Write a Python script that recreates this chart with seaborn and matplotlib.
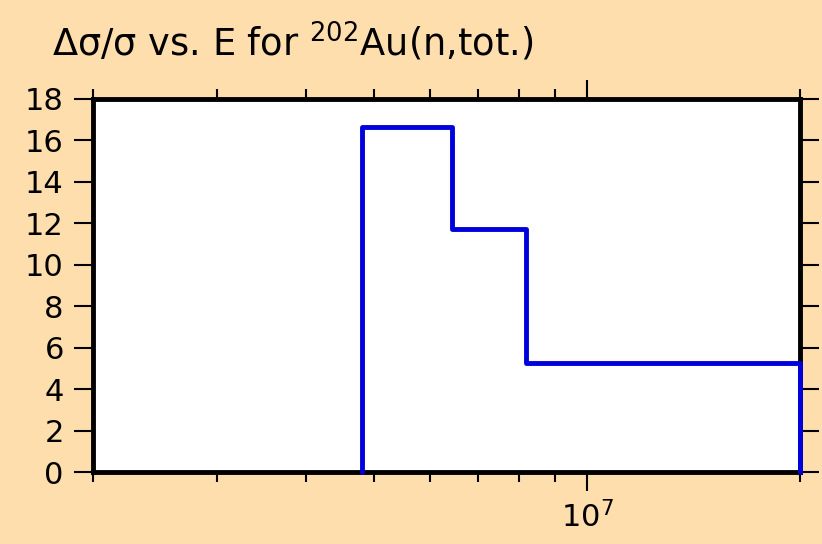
import numpy as np
import pandas as pd
import matplotlib
matplotlib.use('Agg')
import matplotlib.pyplot as plt
import matplotlib.ticker as mticker
import seaborn as sns

# ── 資料 ─────────────────────────────────────────────────────
EDGES  = [4.81e6, 6.44e6, 8.19e6, 2.0e7]   # 能量分組邊界 (eV)
VALUES = [16.65, 11.74, 5.27]              # Δσ/σ (%)
X_MIN, X_MAX = 2.0e6, 2.0e7
Y_TICKS = list(range(0, 20, 2))

BG    = '#FFDEAD'
BLUE  = '#0000DD'

# ── 樣式 ─────────────────────────────────────────────────────
sns.set_style('ticks')
plt.rcParams['font.family'] = ['DejaVu Sans']
plt.rcParams['mathtext.fontset'] = 'dejavusans'
plt.rcParams['mathtext.default'] = 'regular'

# 階梯線：左右兩端落到 0
xs = [EDGES[0]] + EDGES
ys = [0] + VALUES + [0]
df = pd.DataFrame({'E': xs, 'rel': ys})

fig = plt.figure(figsize=(8.22, 5.44), dpi=100, facecolor=BG)
ax = fig.add_axes([93/822, 1 - 472/544, (800-93)/822, (472-99)/544])
ax.set_facecolor('white')

sns.lineplot(data=df, x='E', y='rel', ax=ax, drawstyle='steps-post',
             estimator=None, sort=False, color=BLUE, linewidth=3.5,
             clip_on=False, zorder=5)

ax.set_xscale('log')
ax.set_xlim(X_MIN, X_MAX)
ax.set_ylim(0, 18)
ax.set_yticks(Y_TICKS)
ax.xaxis.set_major_locator(mticker.LogLocator(base=10, numticks=10))
ax.xaxis.set_minor_locator(mticker.LogLocator(base=10, subs=np.arange(2, 10), numticks=10))
ax.xaxis.set_minor_formatter(mticker.NullFormatter())
ax.set_xlabel('')
ax.set_ylabel('')

for sp in ax.spines.values():
    sp.set_visible(True)
    sp.set_linewidth(3.5)
    sp.set_color('black')

ax.tick_params(which='both', direction='out', top=True, right=True,
               width=1.5, color='black', labelsize=22, labelcolor='black')
ax.tick_params(which='major', length=14, pad=7)
ax.tick_params(which='minor', length=7)

fig.text(52/822, 1 - 56/544, r'Δσ/σ vs. E for $^{202}$Au(n,tot.)',
         fontsize=26.5, va='baseline', ha='left', color='black')

fig.savefig('out.png', dpi=100, facecolor=BG)
